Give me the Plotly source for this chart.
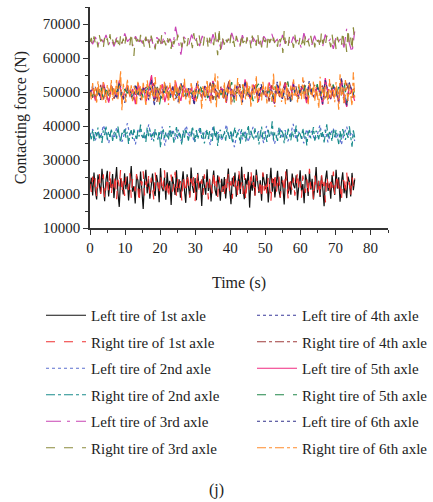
import numpy as np
import plotly.graph_objects as go

left_1st = [22.1, 24.8, 19.6, 26.3, 21.0, 18.4, 25.7, 23.2, 20.1, 27.4, 22.6, 17.9, 24.1, 26.8, 19.3, 23.5, 21.7, 25.9, 18.8, 22.9, 27.9, 20.4, 16.2, 24.6, 23.0, 19.9, 26.1, 21.4, 25.2, 18.1, 23.8, 28.2, 20.7, 22.3, 17.2, 25.4, 24.0, 19.1, 26.6, 21.9, 15.6, 23.6, 27.1, 20.2, 24.4, 18.6, 22.8, 26.0, 21.2, 19.4, 25.6, 23.3, 17.6, 27.6, 22.0, 20.8, 24.9, 18.3, 26.4, 21.6, 23.9, 16.8, 25.1, 22.4, 19.7, 27.0, 20.5, 24.3, 18.9, 22.7, 26.7, 21.1, 17.4, 25.8, 23.1, 19.0, 27.8, 22.2, 20.3, 24.7, 18.2, 26.2, 21.8, 23.7, 16.5, 25.3, 22.5, 19.8, 27.3, 20.9, 24.2, 17.8, 23.4, 26.9, 21.3, 19.5, 25.5, 22.6, 18.0, 24.5,
            20.6, 25.0, 18.7, 23.6, 27.5, 21.5, 17.0, 24.8, 22.2, 26.3, 19.2, 23.0, 25.7, 20.0, 28.0, 21.9, 18.5, 24.6, 22.7, 26.5, 16.0, 23.8, 21.0, 25.4, 19.6, 27.2, 22.4, 20.3, 24.0, 18.0, 26.1, 23.3, 21.4, 25.9, 17.5, 22.8, 27.7, 20.7, 24.4, 19.0, 23.5, 26.8, 21.2, 18.9, 25.2, 22.1, 16.9, 24.7, 27.3, 20.1, 23.2, 19.8, 26.0, 22.6, 21.7, 25.5, 18.2, 24.1, 27.0, 20.8, 22.9, 17.3, 25.8, 23.7, 19.4, 26.6, 21.3, 24.5, 18.4, 22.3, 27.9, 20.4, 23.9, 19.1, 25.3, 21.8, 16.4, 24.2, 26.9, 20.9, 23.1, 18.6, 25.6, 22.0, 19.7, 27.1, 21.6, 24.9, 17.7, 23.4, 26.4, 20.2, 22.5, 18.8, 25.1, 23.6, 19.3, 26.2, 21.1, 24.3]
right_1st = [23.0, 20.6, 25.1, 21.8, 24.7, 19.2, 22.9, 26.4, 20.0, 23.6, 25.8, 18.7, 22.4, 24.9, 21.1, 26.9, 19.8, 23.3, 21.5, 25.6, 18.5, 24.2, 22.0, 27.2, 20.3, 23.9, 19.4, 25.0, 22.7, 21.2, 26.1, 18.9, 24.5, 23.1, 20.8, 25.9, 21.6, 17.6, 24.0, 22.5, 26.7, 19.6, 23.7, 21.3, 25.3, 20.1, 24.8, 22.2, 18.3, 26.3, 21.9, 23.4, 19.9, 25.5, 22.8, 20.5, 27.0, 21.0, 24.1, 18.8, 23.2, 25.7, 20.7, 22.6, 26.5, 19.3, 24.4, 21.7, 23.8, 18.1, 25.2, 22.1, 20.4, 26.0, 23.5, 19.0, 24.6, 21.4, 25.4, 17.9, 23.0, 26.2, 20.9, 22.3, 24.3, 19.7, 25.8, 21.8, 23.6, 18.4, 24.9, 22.4, 20.2, 26.6, 21.5, 23.9, 19.1, 25.1, 22.7, 20.6,
             22.3, 19.5, 24.9, 21.2, 26.0, 20.4, 23.8, 18.6, 25.3, 22.0, 24.5, 19.1, 26.7, 21.5, 23.4, 20.0, 25.9, 18.2, 22.8, 24.7, 20.6, 27.1, 21.9, 23.5, 19.3, 25.6, 22.4, 20.8, 24.2, 18.7, 26.4, 21.0, 23.9, 19.8, 25.1, 22.6, 17.8, 24.6, 21.4, 26.2, 20.2, 23.1, 25.5, 19.0, 22.9, 24.0, 20.5, 26.8, 21.7, 18.5, 25.0, 23.3, 20.9, 24.8, 19.5, 22.2, 26.5, 21.1, 23.7, 18.9, 25.4, 22.5, 20.3, 24.3, 19.9, 27.4, 21.6, 23.0, 18.4, 25.8, 22.1, 20.7, 24.4, 19.2, 26.1, 21.3, 23.6, 17.5, 25.2, 22.7, 20.1, 24.9, 21.8, 26.6, 19.6, 23.2, 25.7, 20.6, 22.4, 18.1, 24.1, 23.8, 20.0, 26.3, 21.9, 23.5, 19.4, 25.0, 22.0, 24.6]
left_2nd = [37.2, 39.1, 35.8, 38.4, 36.6, 40.2, 37.9, 34.9, 38.8, 36.3, 39.6, 37.0, 35.4, 38.1, 40.8, 36.9, 37.7, 34.6, 39.3, 38.0, 36.1, 37.5, 40.5, 35.9, 38.6, 37.3, 36.4, 39.8, 34.2, 38.3, 37.1, 39.0, 36.0, 38.9, 35.6, 37.8, 40.1, 36.7, 38.5, 35.1, 37.4, 39.4, 36.2, 38.7, 37.6, 34.4, 39.9, 36.8, 38.2, 35.7, 37.0, 40.4, 36.5, 38.0, 33.8, 37.9, 39.2, 36.1, 38.6, 35.3, 37.2, 39.7, 36.6, 38.4, 37.3, 35.0, 40.0, 36.9, 38.1, 34.7, 37.7, 39.5, 36.3, 38.8, 35.5, 37.5, 40.6, 36.0, 38.3, 37.1, 34.9, 39.1, 36.7, 38.5, 35.8, 37.4, 40.3, 36.4, 38.9, 35.2, 37.8, 39.3, 36.2, 38.0, 34.5, 37.6, 39.8, 36.8, 38.2, 35.6]
right_2nd = [37.8, 36.1, 38.9, 35.4, 38.2, 37.0, 39.5, 36.4, 37.6, 35.0, 38.7, 37.3, 40.1, 36.0, 38.4, 36.8, 39.2, 35.6, 37.9, 38.6, 36.3, 39.8, 37.1, 35.2, 38.0, 37.4, 39.4, 36.6, 38.3, 34.7, 37.7, 38.8, 36.2, 39.0, 37.5, 35.8, 38.5, 36.9, 40.4, 37.2, 36.5, 38.1, 35.3, 39.6, 37.0, 38.9, 36.7, 37.8, 35.5, 39.1, 37.3, 36.0, 38.6, 33.6, 37.9, 39.3, 36.4, 38.2, 37.1, 35.9, 40.0, 36.8, 38.4, 35.1, 37.6, 39.7, 36.3, 38.0, 37.4, 34.4, 38.7, 36.6, 39.2, 37.2, 35.7, 38.3, 36.9, 39.9, 37.0, 35.4, 38.8, 36.1, 37.7, 39.4, 36.5, 38.1, 34.9, 37.5, 39.0, 36.2, 38.5, 37.3, 35.6, 40.2, 36.7, 38.6, 34.1, 37.9, 38.9, 36.4,
             36.9, 38.5, 35.7, 39.1, 37.4, 36.2, 38.8, 35.0, 37.9, 39.6, 36.6, 38.1, 37.2, 34.8, 39.0, 36.9, 38.3, 35.5, 37.7, 40.3, 36.4, 38.6, 37.0, 35.9, 39.3, 36.7, 38.0, 34.6, 37.6, 39.8, 36.1, 38.4, 37.3, 35.3, 38.9, 36.8, 37.5, 41.4, 36.0, 38.2, 37.1, 35.6, 39.5, 36.5, 38.7, 37.8, 34.9, 38.1, 36.3, 39.2, 37.4, 35.8, 38.5, 36.9, 37.2, 40.1, 35.4, 38.3, 37.6, 36.2, 39.4, 36.6, 38.0, 34.3, 37.9, 38.8, 36.4, 37.3, 39.7, 35.7, 38.6, 37.0, 36.1, 39.0, 36.8, 38.4, 35.2, 37.8, 40.5, 36.3, 38.2, 37.5, 35.5, 39.3, 36.7, 38.9, 37.1, 34.7, 38.5, 36.0, 39.1, 37.7, 35.9, 38.0, 36.5, 39.9, 37.4, 33.9, 38.7, 36.6]
left_3rd = [65.3, 64.1, 66.2, 63.8, 65.9, 64.6, 66.8, 64.0, 65.5, 63.4, 66.0, 65.1, 64.3, 67.2, 64.8, 65.7, 63.6, 66.4, 64.9, 65.2, 63.9, 66.6, 64.4, 65.8, 62.8, 66.1, 65.0, 64.2, 67.6, 64.7, 65.6, 63.3, 69.2, 64.5, 61.0, 66.3, 65.4, 64.0, 66.9, 64.6, 65.9, 63.5, 66.5, 64.8, 65.1, 63.7, 67.0, 64.3, 65.6, 62.6, 66.2, 65.0, 64.1, 67.4, 64.9, 65.7, 63.2, 66.7, 64.4, 65.3, 63.8, 66.0, 64.7, 65.8, 62.9, 66.4, 65.2, 64.0, 67.1, 64.6, 65.5, 63.4, 66.8, 64.2, 65.9, 63.6, 66.3, 64.8, 65.4, 63.0, 67.3, 64.5, 65.7, 63.9, 66.6, 64.1, 65.0, 63.3, 66.9, 64.7, 65.6, 62.7, 66.1, 64.9, 65.8, 63.1, 68.6, 64.3, 61.6, 67.8]
right_3rd = [64.8, 65.9, 63.7, 66.4, 64.2, 65.6, 63.1, 66.7, 64.9, 65.3, 62.9, 66.1, 64.5, 65.8, 63.5, 67.0, 64.0, 65.4, 63.9, 66.5, 64.7, 65.1, 62.6, 66.9, 64.3, 65.7, 63.3, 66.2, 64.6, 65.0, 63.8, 67.5, 63.2, 60.6, 66.0, 64.9, 65.5, 63.6, 66.8, 64.1, 65.2, 62.8, 66.3, 64.4, 65.9, 63.0, 66.6, 64.8, 65.3, 62.5, 66.0, 64.2, 65.6, 63.4, 67.1, 64.7, 65.0, 63.7, 66.4, 64.5, 65.8, 62.7, 66.2, 64.0, 65.4, 63.9, 66.9, 64.6, 65.1, 63.1, 66.5, 64.3, 65.7, 63.5, 66.1, 64.9, 65.2, 62.9, 67.3, 64.1, 65.5, 63.6, 66.7, 64.4, 65.0, 63.2, 66.3, 64.8, 65.9, 62.6, 66.0, 64.2, 65.3, 63.8, 67.9, 64.5, 60.8, 68.9, 62.4, 66.6,
             65.2, 63.9, 66.3, 64.6, 65.7, 63.4, 66.8, 64.2, 65.1, 62.8, 66.5, 64.9, 65.6, 63.7, 67.2, 64.4, 65.0, 63.2, 66.1, 64.7, 65.9, 62.9, 66.6, 64.3, 65.4, 63.6, 67.4, 64.0, 65.8, 63.1, 66.2, 64.8, 65.3, 62.5, 66.9, 64.5, 65.6, 63.8, 66.0, 64.1, 65.2, 63.3, 66.7, 64.6, 65.9, 61.5, 68.3, 64.2, 65.5, 63.5, 66.4, 64.9, 65.0, 63.0, 66.8, 64.3, 65.7, 63.9, 66.3, 64.0, 65.4, 62.7, 67.0, 64.7, 65.1, 63.4, 66.5, 64.4, 65.8, 63.1, 66.1, 64.8, 65.3, 62.9, 67.6, 64.2, 65.6, 63.7, 66.6, 64.5, 65.0, 63.2, 66.9, 64.1, 65.9, 62.6, 66.2, 64.6, 65.2, 63.6, 67.8, 64.0, 65.5, 61.8, 68.6, 63.8, 66.0, 62.2, 69.0, 64.4]
left_4th = [49.6, 51.8, 47.9, 50.7, 48.5, 52.4, 49.1, 47.2, 51.3, 50.0, 48.8, 53.1, 49.4, 46.8, 51.0, 50.5, 48.1, 52.0, 49.8, 47.6, 51.6, 50.2, 48.4, 54.3, 45.9, 50.9, 49.3, 47.8, 52.6, 50.1, 48.6, 51.4, 49.7, 47.0, 52.2, 50.4, 48.9, 51.1, 49.0, 46.5, 52.8, 50.3, 48.3, 51.7, 49.5, 47.4, 53.4, 49.9, 48.0, 51.2, 50.6, 47.7, 52.1, 49.2, 48.7, 51.5, 50.0, 46.9, 52.9, 49.6, 48.2, 51.9, 50.8, 47.5, 52.3, 49.4, 48.5, 51.0, 50.2, 46.6, 53.0, 49.8, 48.1, 51.8, 50.4, 47.3, 52.5, 49.1, 48.8, 51.3, 50.7, 47.9, 52.7, 49.3, 48.4, 51.6, 50.1, 46.4, 53.6, 49.7, 48.0, 51.2, 50.5, 47.1, 54.0, 49.0, 45.8, 52.4, 50.3, 48.6]
right_4th = [50.2, 48.3, 51.5, 49.0, 52.1, 47.6, 50.8, 49.5, 51.9, 48.0, 50.4, 52.7, 47.3, 50.0, 51.2, 48.7, 50.9, 49.2, 52.4, 47.8, 50.6, 51.4, 48.5, 50.1, 53.0, 47.1, 51.0, 49.7, 52.0, 48.2, 50.5, 51.7, 47.9, 50.3, 52.5, 48.6, 51.1, 49.4, 50.7, 47.4, 52.2, 49.9, 51.3, 48.4, 50.0, 52.8, 47.7, 50.9, 49.1, 51.6, 48.1, 50.4, 53.2, 46.9, 51.0, 49.6, 52.3, 48.3, 50.6, 51.8, 47.5, 50.2, 52.6, 48.8, 51.4, 49.3, 50.8, 47.2, 52.0, 49.8, 51.1, 48.5, 50.3, 52.9, 47.6, 51.2, 49.0, 51.7, 48.0, 50.5, 53.3, 47.0, 51.5, 49.5, 52.1, 48.7, 50.7, 51.9, 47.8, 50.1, 52.4, 48.2, 51.3, 49.2, 54.2, 46.7, 52.7, 48.9, 50.4, 51.0]
left_5th = [49.1, 51.2, 47.5, 50.6, 48.2, 52.9, 49.7, 46.9, 51.8, 50.1, 48.6, 53.5, 47.8, 50.3, 52.0, 48.9, 50.8, 46.4, 52.6, 49.4, 51.5, 47.2, 50.9, 55.0, 47.6, 51.1, 49.0, 52.3, 47.0, 50.5, 51.9, 48.4, 53.1, 49.6, 47.4, 52.1, 50.2, 48.8, 51.4, 46.6, 52.7, 49.9, 48.1, 51.7, 50.4, 47.3, 53.3, 49.2, 48.5, 51.0, 50.7, 46.8, 52.4, 49.5, 48.0, 51.6, 50.0, 47.7, 53.7, 49.3, 48.3, 52.2, 50.6, 47.1, 51.3, 49.8, 48.7, 52.8, 50.1, 46.5, 51.9, 49.6, 48.2, 52.5, 50.3, 47.5, 53.0, 49.1, 48.9, 51.2, 50.8, 46.7, 52.0, 49.4, 48.4, 51.5, 50.5, 46.2, 54.1, 49.7, 47.9, 51.8, 50.2, 46.9, 53.8, 48.8, 45.6, 52.6, 50.0, 47.4]
right_5th = [50.4, 48.7, 51.1, 49.3, 52.3, 47.9, 50.6, 49.0, 51.7, 48.4, 50.2, 52.5, 47.5, 50.9, 49.6, 51.4, 48.1, 50.7, 49.2, 52.0, 47.7, 50.3, 51.6, 48.9, 50.0, 52.8, 46.3, 51.2, 49.8, 51.9, 48.3, 50.5, 51.3, 47.8, 50.8, 52.2, 48.6, 51.0, 49.5, 50.4, 47.4, 52.4, 49.7, 51.5, 48.2, 50.1, 52.6, 47.6, 51.1, 49.1, 51.8, 48.5, 50.6, 52.9, 46.8, 51.0, 49.9, 52.1, 48.0, 50.3, 51.7, 47.3, 50.9, 52.4, 48.8, 51.2, 49.4, 50.7, 47.0, 52.0, 49.6, 51.3, 48.6, 50.2, 53.1, 47.2, 51.4, 49.2, 51.6, 48.1, 50.5, 52.7, 47.5, 51.1, 49.7, 52.3, 48.4, 50.8, 51.9, 47.9, 50.0, 52.2, 48.7, 51.5, 49.0, 53.4, 46.6, 52.5, 48.3, 50.6]
left_6th = [49.9, 51.4, 48.2, 50.8, 47.7, 52.0, 49.4, 48.6, 51.6, 50.3, 47.9, 52.8, 49.1, 48.0, 51.2, 50.6, 47.4, 52.3, 49.7, 48.8, 51.0, 50.1, 47.6, 53.7, 46.9, 51.3, 49.5, 48.3, 52.5, 50.0, 48.9, 51.7, 49.2, 47.5, 52.6, 50.4, 48.1, 51.5, 49.8, 46.2, 53.0, 50.2, 48.4, 51.8, 49.3, 47.8, 52.9, 50.5, 48.7, 51.1, 49.6, 47.3, 52.4, 50.7, 48.5, 51.9, 49.0, 47.1, 53.2, 50.0, 48.2, 51.6, 50.9, 47.6, 52.1, 49.5, 48.9, 51.3, 50.3, 46.7, 52.7, 49.8, 48.0, 51.5, 50.6, 47.2, 52.2, 49.3, 48.6, 51.7, 50.1, 47.9, 53.3, 49.6, 48.3, 51.2, 50.4, 46.5, 53.5, 49.9, 48.1, 51.4, 50.8, 47.0, 53.9, 49.2, 46.1, 52.8, 50.2, 48.5]
right_6th = [50.1, 47.8, 52.6, 48.9, 51.7, 46.5, 53.2, 49.4, 51.0, 47.2, 52.9, 49.8, 46.8, 52.1, 50.5, 48.1, 53.6, 47.5, 51.4, 49.1, 54.0, 47.9, 50.8, 56.2, 44.6, 52.4, 49.6, 47.0, 53.8, 50.2, 48.4, 52.0, 47.3, 51.6, 50.9, 46.4, 53.0, 49.2, 51.8, 47.6, 52.7, 49.9, 45.8, 53.4, 50.4, 48.0, 52.2, 49.0, 47.4, 54.4, 48.6, 51.2, 46.9, 52.5, 50.0, 47.7, 53.1, 49.5, 51.9, 46.2, 52.8, 49.3, 50.7, 47.1, 53.5, 48.8, 51.3, 46.6, 52.3, 50.3, 48.2, 53.9, 47.8, 51.5, 49.7, 46.0, 52.6, 50.6, 48.5, 51.1, 47.2, 53.3, 49.4, 50.9, 44.9, 52.0, 50.1, 47.5, 53.7, 48.7, 51.8, 46.7, 52.4, 49.8, 55.4, 45.3, 54.6, 47.9, 51.0, 49.2,
             48.3, 52.9, 47.0, 51.4, 49.6, 53.6, 46.3, 50.8, 48.9, 52.2, 47.4, 54.1, 49.2, 51.0, 46.1, 52.7, 50.4, 47.8, 53.3, 48.6, 51.7, 45.4, 52.4, 49.9, 48.1, 54.8, 46.8, 51.2, 50.2, 47.5, 53.0, 49.0, 51.6, 46.6, 52.5, 48.4, 50.7, 47.2, 55.6, 45.6, 52.1, 49.4, 48.7, 53.4, 47.1, 51.3, 50.0, 46.4, 52.8, 49.7, 48.2, 51.9, 47.6, 53.7, 48.9, 50.5, 46.9, 52.3, 49.3, 47.9, 54.3, 48.0, 51.1, 50.6, 46.2, 52.6, 49.5, 48.5, 53.2, 47.3, 51.5, 49.1, 45.2, 54.5, 48.8, 50.9, 47.7, 52.0, 49.8, 46.5, 53.8, 48.3, 51.8, 50.3, 47.0, 52.9, 49.6, 44.8, 55.2, 48.6, 51.4, 46.7, 53.5, 50.1, 47.4, 52.2, 49.0, 45.9, 55.8, 48.1]

t_end = 75.5

series = [
    ("Left tire of 1st axle", left_1st, "#111111", "solid"),
    ("Right tire of 1st axle", right_1st, "#f03030", "dash"),
    ("Left tire of 2nd axle", left_2nd, "#5b6fd0", "dot"),
    ("Right tire of 2nd axle", right_2nd, "#1a8c8c", "dashdot"),
    ("Left tire of 3rd axle", left_3rd, "#c844b4", "longdashdot"),
    ("Right tire of 3rd axle", right_3rd, "#8a8a3c", "dash"),
    ("Left tire of 4th axle", left_4th, "#3a3a9a", "dot"),
    ("Right tire of 4th axle", right_4th, "#a03c3c", "dashdot"),
    ("Left tire of 5th axle", left_5th, "#f02a80", "solid"),
    ("Right tire of 5th axle", right_5th, "#20874a", "dash"),
    ("Left tire of 6th axle", left_6th, "#32328a", "dot"),
    ("Right tire of 6th axle", right_6th, "#ff8a2a", "dashdot"),
]

FONT = "Liberation Serif"
W, H = 433, 502
L, R, T, B = 90, 45, 7, 274
fig = go.Figure()
for i, (name, vals, color, dash) in enumerate(series):
    y = np.array(vals) * 1000
    t = np.linspace(0, t_end, len(y))
    fig.add_trace(go.Scatter(
        x=t, y=y, mode="lines", name=name,
        line=dict(color=color, width=1.2, dash=dash),
        legendgroup=name,
        legend="legend" if i < 6 else "legend2",
    ))

pw, ph = W - L - R, H - T - B


def px(xp):
    return (xp - L) / pw


def py(yp):
    return (H - B - yp) / ph


legend_common = dict(
    xref="paper", yref="paper", yanchor="top", xanchor="left",
    font=dict(family=FONT, size=15, color="#222"),
    bgcolor="rgba(0,0,0,0)", tracegroupgap=4, itemwidth=40,
)
fig.update_layout(
    width=W, height=H,
    margin=dict(l=L, r=R, t=T, b=B, autoexpand=False),
    paper_bgcolor="white", plot_bgcolor="white",
    font=dict(family=FONT, size=15, color="#222"),
    legend=dict(x=px(41), y=py(299), **legend_common),
    legend2=dict(x=px(252), y=py(299), **legend_common),
    xaxis=dict(
        range=[0, 85], tickvals=[0, 10, 20, 30, 40, 50, 60, 70, 80],
        ticks="outside", ticklen=5, tickwidth=1.2, tickcolor="#333",
        minor=dict(dtick=5, tick0=0, ticks="outside", ticklen=3, tickcolor="#333"),
        showline=True, linecolor="#333", linewidth=1.5, showgrid=False, zeroline=False,
        title=dict(text="Time (s)", font=dict(family=FONT, size=16), standoff=22),
        tickfont=dict(family=FONT, size=15),
    ),
    yaxis=dict(
        range=[10000, 75000], tickvals=[10000, 20000, 30000, 40000, 50000, 60000, 70000],
        ticks="outside", ticklen=5, tickwidth=1.2, tickcolor="#333",
        minor=dict(dtick=5000, tick0=10000, ticks="outside", ticklen=3, tickcolor="#333"),
        showline=True, linecolor="#333", linewidth=1.5, showgrid=False, zeroline=False,
        title=dict(text="Contacting force (N)", font=dict(family=FONT, size=16), standoff=12),
        tickfont=dict(family=FONT, size=15), tickformat="d",
    ),
    annotations=[dict(text="(j)", x=px(216), y=py(490), xref="paper", yref="paper",
                      xanchor="center", yanchor="middle",
                      showarrow=False, font=dict(family=FONT, size=16, color="#222"))],
)
fig.write_html("out.html")
